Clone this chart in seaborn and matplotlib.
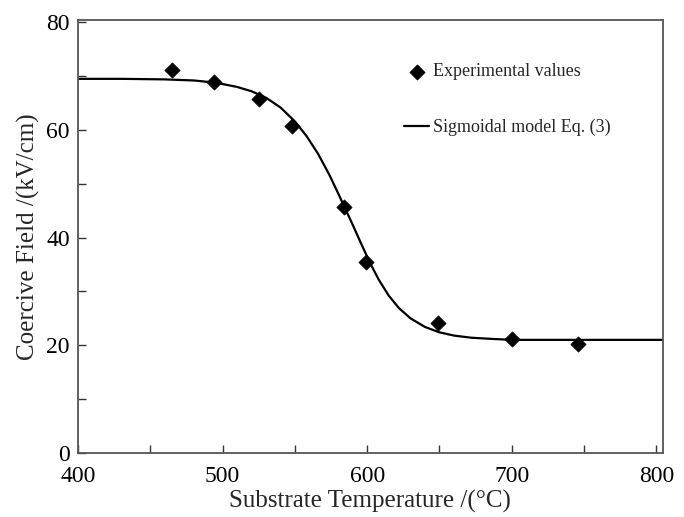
import matplotlib
matplotlib.use("Agg")
import matplotlib.pyplot as plt
import seaborn as sns
import pandas as pd
from matplotlib.ticker import MultipleLocator

# Experimental data
exp_temp = [465, 494, 525, 548, 584, 599, 649, 700, 746]
exp_field = [71.1, 68.9, 65.8, 60.8, 45.7, 35.5, 24.2, 21.2, 20.3]

# Sigmoidal model curve
model_temp = [400, 430, 460, 480, 495, 510, 520, 530, 540, 550, 558, 566, 574,
              580, 585, 590, 596, 602, 608, 615, 622, 630, 640, 650, 660, 672,
              685, 700, 720, 750, 805]
model_field = [69.5, 69.5, 69.4, 69.2, 68.8, 68.0, 67.2, 66.0, 64.2, 61.6, 58.9,
               55.6, 51.6, 48.2, 45.3, 42.4, 38.8, 35.3, 32.2, 29.2, 26.9, 25.0,
               23.4, 22.4, 21.8, 21.4, 21.2, 21.0, 21.0, 21.0, 21.0]

sns.set_style("ticks")
plt.rcParams['font.family'] = ['Liberation Serif', 'DejaVu Serif']

fig = plt.figure(figsize=(6.84, 5.17), dpi=100)
ax = fig.add_axes([0.114, 0.124, 0.855, 0.838])

df_exp = pd.DataFrame({"T": exp_temp, "H": exp_field})
df_mod = pd.DataFrame({"T": model_temp, "H": model_field})

sns.lineplot(data=df_mod, x="T", y="H", ax=ax, color="black", linewidth=1.6,
             label="Sigmoidal model Eq. (3)", zorder=2)
sns.scatterplot(data=df_exp, x="T", y="H", ax=ax, marker="D", s=60,
                color="black", edgecolor="black", linewidth=0.5,
                label="Experimental values", zorder=3)

ax.set_xlim(400, 804.5)
ax.set_ylim(0, 80.5)
ax.xaxis.set_major_locator(MultipleLocator(100))
ax.xaxis.set_minor_locator(MultipleLocator(50))
ax.yaxis.set_major_locator(MultipleLocator(20))
ax.yaxis.set_minor_locator(MultipleLocator(10))
ax.tick_params(which="both", direction="in", length=6, width=1.0,
               colors="#333333", labelsize=17, labelcolor="black",
               top=False, right=False)
ax.tick_params(axis="x", pad=9.5)
ax.tick_params(axis="y", pad=6)

for sp in ax.spines.values():
    sp.set_visible(True)
    sp.set_color("#555555")
    sp.set_linewidth(1.3)

ax.set_xlabel("Substrate Temperature /(°C)", fontsize=18, labelpad=2)
ax.set_ylabel("Coercive Field /(kV/cm)", fontsize=18, labelpad=4)

handles, labels = ax.get_legend_handles_labels()
order = [labels.index("Experimental values"), labels.index("Sigmoidal model Eq. (3)")]
leg = ax.legend([handles[i] for i in order], [labels[i] for i in order],
                loc="upper left", bbox_to_anchor=(0.545, 0.916), frameon=False,
                fontsize=13, handlelength=1.4, handletextpad=0.2,
                labelspacing=2.15, borderaxespad=0)

fig.savefig("out.png", dpi=100)
